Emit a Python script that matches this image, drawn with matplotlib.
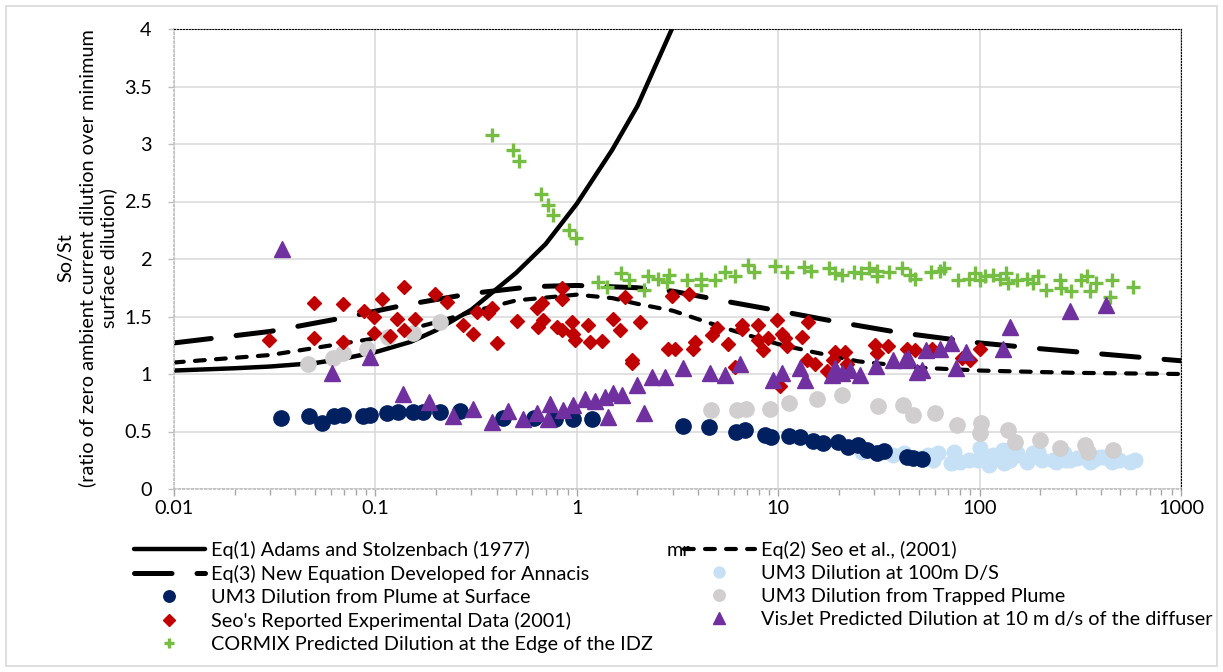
import matplotlib
matplotlib.use("Agg")
import matplotlib.pyplot as plt
from matplotlib.patches import Rectangle

plt.rcParams['font.family'] = ['Lato', 'DejaVu Sans']

# ---------------- data ----------------
eq1_x = [0.01, 0.02, 0.03, 0.05, 0.07, 0.1, 0.15, 0.2, 0.3, 0.5, 0.7, 1.0, 1.5, 2.0, 3.0]
eq1_y = [1.03, 1.05, 1.065, 1.095, 1.135, 1.19, 1.28, 1.38, 1.56, 1.88, 2.13, 2.48, 2.95, 3.33, 4.02]

eq2_x = [0.01, 0.03, 0.1, 0.2, 0.3, 0.5, 1.0, 1.5, 2.0, 3.0, 5.0, 7.0, 10, 15, 25, 50, 100, 300, 1000]
eq2_y = [1.10, 1.165, 1.31, 1.45, 1.54, 1.64, 1.69, 1.66, 1.61, 1.55, 1.42, 1.34, 1.26, 1.19, 1.11, 1.055, 1.03, 1.01, 1.0]

eq3_x = [0.01, 0.03, 0.07, 0.14, 0.3, 0.6, 1.0, 2.0, 3.0, 6.0, 10, 20, 40, 100, 200, 500, 1000]
eq3_y = [1.27, 1.37, 1.49, 1.60, 1.70, 1.76, 1.77, 1.75, 1.72, 1.62, 1.55, 1.45, 1.36, 1.27, 1.22, 1.16, 1.115]

um3_100m_x = [26, 37.2, 42, 50.5, 55.6, 59, 62.5, 72, 74.5, 74.5, 80, 88.8, 98, 100, 106, 111, 117, 131,
              132, 138, 142, 153, 154, 172, 185, 196, 199, 204, 232, 239, 261, 268, 281, 306, 328, 355,
              367, 398, 411, 452, 461, 494, 558, 589]
um3_100m_y = [0.324, 0.296, 0.31, 0.267, 0.296, 0.25, 0.31, 0.226, 0.325, 0.237, 0.237, 0.252, 0.252, 0.354,
              0.267, 0.209, 0.296, 0.339, 0.223, 0.339, 0.252, 0.31, 0.296, 0.237, 0.31, 0.325, 0.267, 0.252,
              0.252, 0.237, 0.31, 0.252, 0.252, 0.267, 0.281, 0.237, 0.252, 0.281, 0.281, 0.237, 0.252, 0.252,
              0.237, 0.252]

um3_surf_x = [0.034, 0.047, 0.054, 0.062, 0.069, 0.087, 0.094, 0.114, 0.13, 0.154, 0.173, 0.21, 0.263,
              0.43, 0.61, 0.78, 0.96, 1.19, 3.38, 4.53, 6.15, 6.84, 8.6, 9.2, 11.3, 12.8, 14.9, 16.6,
              19.9, 22.3, 25, 27.5, 31, 33.5, 43.4, 46.8, 52]
um3_surf_y = [0.62, 0.635, 0.57, 0.635, 0.643, 0.637, 0.643, 0.663, 0.672, 0.672, 0.672, 0.667, 0.681,
              0.615, 0.615, 0.606, 0.606, 0.606, 0.55, 0.54, 0.50, 0.513, 0.47, 0.455, 0.461, 0.45, 0.417,
              0.397, 0.41, 0.368, 0.383, 0.339, 0.31, 0.33, 0.276, 0.267, 0.26]

um3_trap_x = [0.0465, 0.0618, 0.069, 0.091, 0.115, 0.153, 0.21, 4.62, 6.22, 6.92, 9.1, 11.3, 15.5, 20.7,
              31.2, 41.8, 46.5, 60.1, 76.8, 102, 100, 139, 150, 199, 251, 334, 347, 461]
um3_trap_y = [1.09, 1.14, 1.185, 1.217, 1.32, 1.36, 1.455, 0.687, 0.687, 0.70, 0.693, 0.745, 0.78, 0.817,
              0.72, 0.73, 0.643, 0.658, 0.557, 0.571, 0.484, 0.513, 0.411, 0.426, 0.354, 0.383, 0.324, 0.339]

seo_x = [0.0296, 0.0495, 0.0495, 0.069, 0.069, 0.088, 0.098, 0.098, 0.108, 0.118, 0.128, 0.138, 0.139,
         0.158, 0.197, 0.226, 0.273, 0.304, 0.318, 0.364, 0.378, 0.40, 0.503, 0.633, 0.67, 0.683, 0.64,
         0.794, 0.84, 0.84, 0.84, 0.944, 0.96, 0.98, 1.14, 1.16, 1.33, 1.52, 1.64, 1.73, 1.87, 1.89, 2.06,
         2.85, 2.96, 3.08, 3.62, 3.79, 3.87, 4.68, 4.96, 5.66, 6.1, 6.6, 6.6, 7.98, 7.98, 8.45, 8.94, 9.84,
         10.4, 10.8, 11.0, 10.2, 13.2, 14.1, 13.9, 15.2, 17.4, 19.2, 21.5, 18.8, 21.9, 30.3, 30.8, 35.2,
         43.5, 47.8, 57.7, 81.6, 89.8, 100]
seo_y = [1.30, 1.62, 1.31, 1.61, 1.275, 1.55, 1.50, 1.36, 1.65, 1.33, 1.48, 1.76, 1.38,
         1.48, 1.70, 1.63, 1.43, 1.35, 1.54, 1.53, 1.57, 1.27, 1.46, 1.57, 1.62, 1.47, 1.41,
         1.41, 1.75, 1.65, 1.38, 1.455, 1.35, 1.30, 1.43, 1.28, 1.29, 1.48, 1.38, 1.67, 1.12, 1.10, 1.455,
         1.215, 1.68, 1.22, 1.70, 1.22, 1.28, 1.34, 1.40, 1.26, 1.06, 1.39, 1.43, 1.43, 1.30, 1.21, 1.31, 1.47,
         1.35, 1.31, 1.24, 0.90, 1.32, 1.455, 1.12, 1.09, 1.03, 1.19, 1.19, 1.12, 1.09, 1.25, 1.18, 1.24,
         1.22, 1.21, 1.22, 1.14, 1.12, 1.22]

visjet_x = [0.0343, 0.0607, 0.094, 0.137, 0.185, 0.242, 0.306, 0.378, 0.457, 0.543, 0.632, 0.736, 0.72,
            0.857, 0.962, 1.10, 1.23, 1.38, 1.52, 1.43, 1.67, 2.0, 2.16, 2.36, 2.74, 3.38, 4.58, 5.44, 6.46,
            9.46, 10.4, 12.8, 13.6, 18.4, 19.2, 20.7, 22.7, 25.5, 30.6, 37.3, 44.2, 48.7, 42.4, 51.7, 54.4,
            63.9, 72.2, 76.6, 85.8, 131, 141, 281, 425]
visjet_y = [2.09, 1.006, 1.15, 0.826, 0.76, 0.637, 0.70, 0.58, 0.68, 0.606, 0.663, 0.736, 0.606,
            0.687, 0.73, 0.78, 0.768, 0.80, 0.837, 0.63, 0.817, 0.904, 0.658, 0.97, 0.97, 1.05, 1.006, 0.99, 1.09,
            0.948, 1.006, 1.05, 0.948, 0.99, 1.05, 1.006, 1.035, 0.99, 1.07, 1.12, 1.137, 1.02, 1.12, 1.035, 1.21,
            1.22, 1.27, 1.05, 1.19, 1.22, 1.41, 1.55, 1.60]

cormix_x = [0.38, 0.484, 0.519, 0.663, 0.723, 0.765, 0.918, 0.99,
            1.27, 1.42, 1.66, 1.81, 2.16, 2.26, 2.52, 2.88, 2.81, 3.51, 4.13, 4.13, 4.88, 5.45, 6.08, 7.1,
            7.57, 9.64, 11.0, 13.4, 14.6, 17.8, 19.1, 20.8, 23.7, 25.9, 28.3, 30.9, 30.9, 35.3, 41.1, 44.9,
            48.0, 57.2, 63.9, 66.7, 77.8, 88.8, 94.9, 101, 106, 116, 126, 135, 138, 154, 172, 184, 196, 214,
            250, 255, 285, 318, 340, 355, 379, 452, 443, 575]
cormix_y = [3.08, 2.95, 2.855, 2.565, 2.47, 2.38, 2.25, 2.18,
            1.80, 1.76, 1.875, 1.82, 1.73, 1.85, 1.83, 1.86, 1.80, 1.82, 1.83, 1.77, 1.82, 1.89, 1.85, 1.95,
            1.89, 1.94, 1.89, 1.93, 1.90, 1.92, 1.875, 1.86, 1.89, 1.875, 1.92, 1.90, 1.85, 1.89, 1.92, 1.86,
            1.83, 1.89, 1.90, 1.92, 1.82, 1.83, 1.875, 1.82, 1.85, 1.86, 1.83, 1.875, 1.79, 1.82, 1.83, 1.79,
            1.85, 1.73, 1.82, 1.745, 1.72, 1.82, 1.85, 1.72, 1.79, 1.82, 1.67, 1.76]

x_ticks = [0.01, 0.1, 1, 10, 100, 1000]
x_tick_labels = ["0.01", "0.1", "1", "10", "100", "1000"]
y_ticks = [0, 0.5, 1, 1.5, 2, 2.5, 3, 3.5, 4]
y_tick_labels = ["0", "0.5", "1", "1.5", "2", "2.5", "3", "3.5", "4"]
y_label_lines = ["So/St",
                 "(ratio of zero ambient current dilution over minimum",
                 "surface dilution)"]

FS = 14.3

# ---------------- figure ----------------
W, H = 1223, 672
fig = plt.figure(figsize=(W / 100, H / 100), dpi=100)
fig.patches.append(Rectangle((6 / W, 6 / H), (W - 12) / W, (H - 12) / H, transform=fig.transFigure,
                             fill=False, edgecolor='#d9d9d9', lw=1.2))

ax = fig.add_axes([174 / W, 1 - 489 / H, (1181 - 174) / W, (489 - 29) / H])
ax.set_xscale('log')
ax.set_xlim(0.01, 1000)
ax.set_ylim(0, 4)

ax.grid(True, which='major', color='#d9d9d9', lw=1.1)
ax.set_axisbelow(True)
for side in ['left', 'bottom']:
    ax.spines[side].set_color('#bfbfbf')
    ax.spines[side].set_linestyle(':')
    ax.spines[side].set_linewidth(1.2)
for side in ['top', 'right']:
    ax.spines[side].set_color('#000000')
    ax.spines[side].set_linestyle(':')
    ax.spines[side].set_linewidth(0.8)

ax.set_xticks(x_ticks)
ax.set_xticklabels(x_tick_labels)
ax.set_yticks(y_ticks)
ax.set_yticklabels(y_tick_labels)
ax.tick_params(axis='x', which='major', length=5, width=1, color='#a6a6a6', labelsize=FS, pad=3)
ax.tick_params(axis='x', which='minor', length=4, width=1, color='#a6a6a6')
ax.tick_params(axis='y', which='major', length=4, width=1, color='#bfbfbf', labelsize=FS, pad=12)

l1, = ax.plot(eq1_x, eq1_y, color='black', lw=3.2, solid_capstyle='round', zorder=2,
              label='Eq(1) Adams and Stolzenbach (1977)')
l2, = ax.plot(eq2_x, eq2_y, color='black', lw=3.0, linestyle=(0, (2.35, 2.7)), dash_capstyle='round',
              zorder=2, label='Eq(2) Seo et al., (2001)')
l3, = ax.plot(eq3_x, eq3_y, color='black', lw=3.6, linestyle=(0, (7.5, 5.0)), dash_capstyle='round',
              zorder=2, label='Eq(3) New Equation Developed for Annacis')

s_lb, = ax.plot(um3_100m_x, um3_100m_y, 'o', ms=10.5, color='#c6e0f5', mec='#c6e0f5', zorder=3,
                label='UM3 Dilution at 100m D/S')
s_nv, = ax.plot(um3_surf_x, um3_surf_y, 'o', ms=11, color='#002060', mec='#002060', zorder=4,
                label='UM3 Dilution from Plume at Surface')
s_gr, = ax.plot(um3_trap_x, um3_trap_y, 'o', ms=11, color='#d0cece', mec='#d0cece', zorder=5,
                label='UM3 Dilution from Trapped Plume')
s_rd, = ax.plot(seo_x, seo_y, 'D', ms=7.5, color='#c00000', mec='#c00000', zorder=6,
                label="Seo's Reported Experimental Data (2001)")
s_gn, = ax.plot(cormix_x, cormix_y, '+', ms=10, mew=2.4, color='#76bd43', zorder=7,
                label='CORMIX Predicted Dilution at the Edge of the IDZ')
s_pu, = ax.plot(visjet_x, visjet_y, '^', ms=11, color='#7030a0', mec='#7030a0', zorder=8,
                label='VisJet Predicted Dilution at 10 m d/s of the diffuser')

# y label (three centred lines)
for xp, txt in zip([66, 87, 108], y_label_lines):
    fig.text(xp / W, 1 - 258 / H, txt, rotation=90, ha='center', va='center', fontsize=FS)

# legends (two columns, Excel-like row ordering)
common = dict(frameon=False, fontsize=FS, handlelength=3.55, handletextpad=0.35, borderpad=0,
              borderaxespad=0, labelspacing=0.3, markerscale=0.75, numpoints=1, loc='upper left')
leg1 = fig.legend([l1, l3, s_nv, s_rd, s_gn], [h.get_label() for h in [l1, l3, s_nv, s_rd, s_gn]],
                  bbox_to_anchor=(134 / W, 1 - 541 / H), **common)
leg2 = fig.legend([l2, s_lb, s_gr, s_pu], [h.get_label() for h in [l2, s_lb, s_gr, s_pu]],
                  bbox_to_anchor=(684 / W, 1 - 541 / H), **common)

fig.text(678 / W, 1 - 551 / H, "mr", ha='center', va='center', fontsize=FS, zorder=10)

fig.savefig('out.png', dpi=100)
